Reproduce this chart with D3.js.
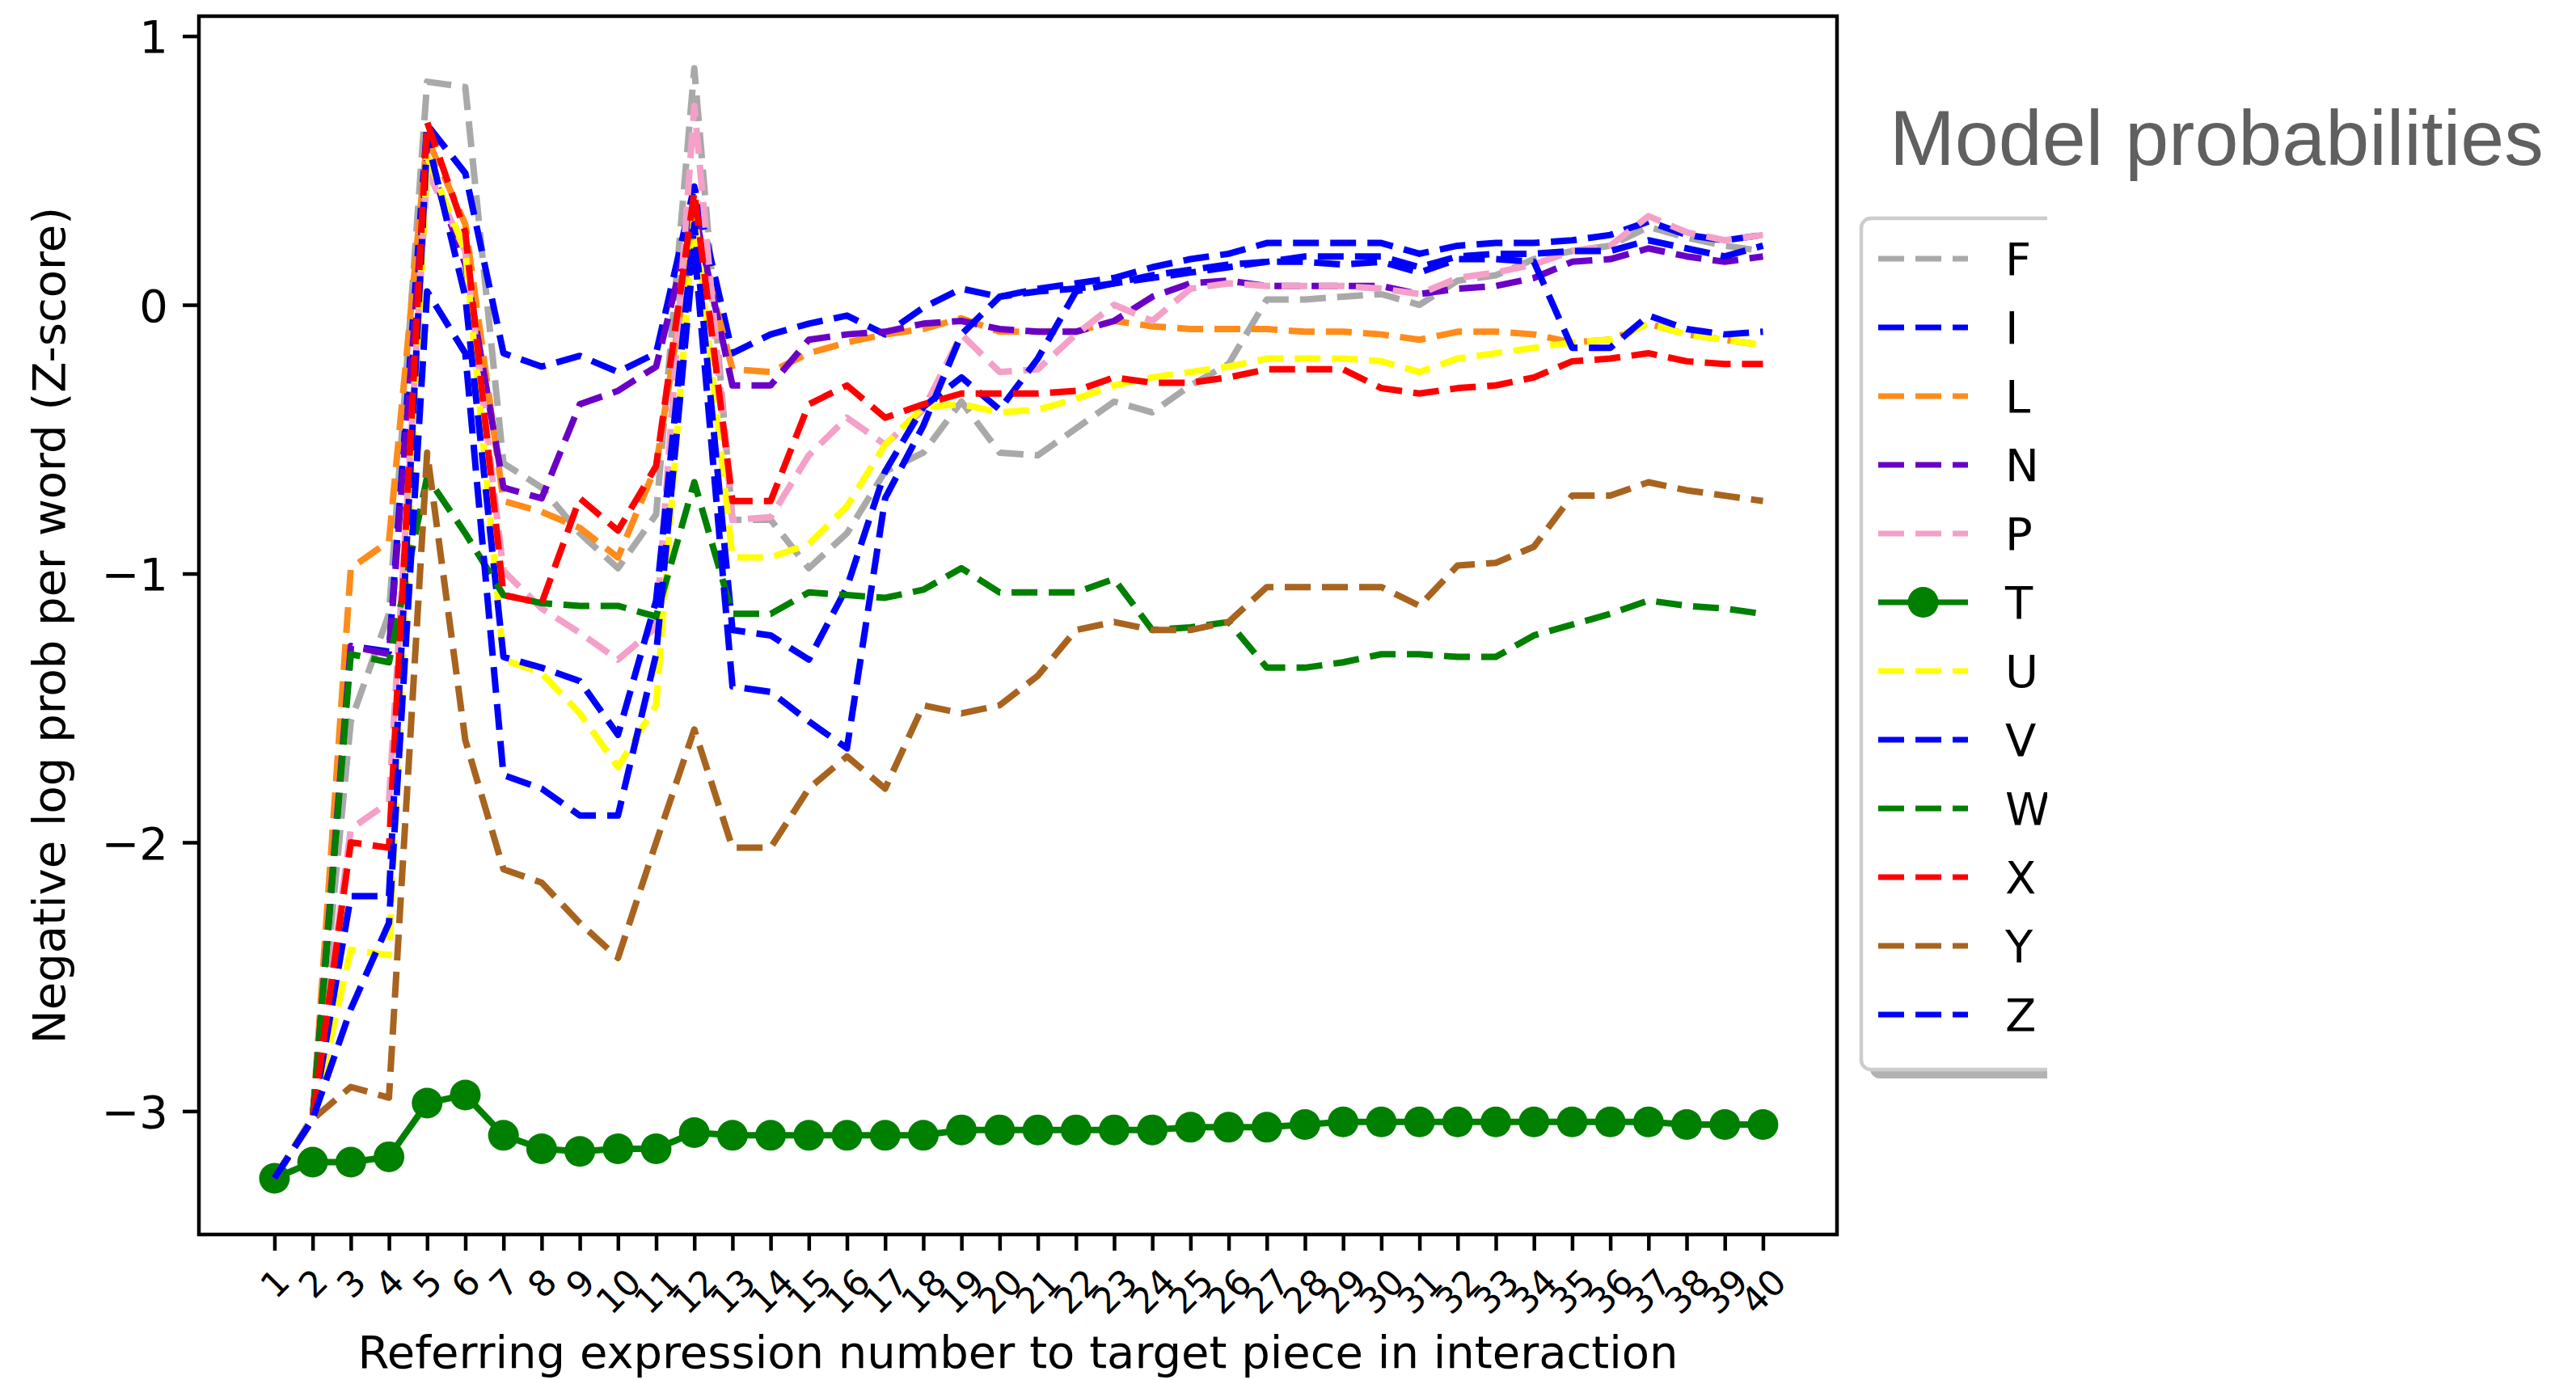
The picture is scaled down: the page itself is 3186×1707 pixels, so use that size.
<!DOCTYPE html>
<html>
<head>
<meta charset="utf-8">
<script src="https://cdn.jsdelivr.net/npm/d3@7.9.0/dist/d3.min.js"></script>
<style>
  html, body { margin: 0; padding: 0; background: #fff; }
  svg { display: block; }
  text { font-family: "DejaVu Sans", sans-serif; fill: #000; }
</style>
</head>
<body>
<svg id="chart" width="3186" height="1707"></svg>
<script>
// referring expression index 1..40
const steps = d3.range(1, 41);
const labels = ['F', 'I', 'L', 'N', 'P', 'T', 'U', 'V', 'W', 'X', 'Y', 'Z'];
const colors = ['#a9a9a9', '#0000ff', '#ff8c1a', '#6a00c8', '#f4a0c8', '#008000',
                '#ffff00', '#0000ff', '#008000', '#ff0000', '#a8641e', '#0000ff'];

const valsF = [-3.25, -3.02, -1.55, -1.15, 0.83, 0.81, -0.59, -0.68, -0.85, -0.98,
               -0.78, 0.88, -0.80, -0.80, -0.98, -0.85, -0.62, -0.55, -0.36, -0.55,
               -0.56, -0.46, -0.36, -0.40, -0.30, -0.22, 0.02, 0.02, 0.03, 0.04,
               0.00, 0.09, 0.11, 0.17, 0.20, 0.22, 0.29, 0.25, 0.22, 0.20];
const valsI = [-3.25, -3.03, -1.27, -1.29, 0.67, 0.49, -0.18, -0.23, -0.19, -0.25,
               -0.18, 0.44, -0.18, -0.11, -0.07, -0.04, -0.11, -0.01, 0.06, 0.03,
               0.06, 0.08, 0.10, 0.14, 0.17, 0.19, 0.23, 0.23, 0.23, 0.23,
               0.19, 0.22, 0.23, 0.23, 0.24, 0.26, 0.31, 0.26, 0.24, 0.26];
const valsL = [-3.25, -3.03, -0.98, -0.88, 0.62, 0.30, -0.73, -0.77, -0.83, -0.94,
               -0.60, 0.30, -0.24, -0.25, -0.18, -0.14, -0.11, -0.09, -0.05, -0.10,
               -0.10, -0.10, -0.06, -0.08, -0.09, -0.09, -0.09, -0.10, -0.10, -0.11,
               -0.13, -0.10, -0.10, -0.11, -0.14, -0.13, -0.07, -0.11, -0.13, -0.15];
const valsN = [-3.25, -3.03, -1.27, -1.30, 0.55, 0.15, -0.68, -0.72, -0.37, -0.32,
               -0.23, 0.35, -0.30, -0.30, -0.13, -0.11, -0.10, -0.07, -0.06, -0.09,
               -0.10, -0.10, -0.06, 0.03, 0.08, 0.09, 0.07, 0.07, 0.07, 0.07,
               0.04, 0.06, 0.07, 0.10, 0.16, 0.17, 0.21, 0.18, 0.16, 0.18];
const valsP = [-3.25, -3.03, -1.95, -1.85, 0.50, 0.20, -0.99, -1.13, -1.22, -1.32,
               -1.20, 0.74, -0.80, -0.79, -0.56, -0.42, -0.52, -0.39, -0.11, -0.25,
               -0.24, -0.11, 0.00, -0.06, 0.06, 0.08, 0.07, 0.07, 0.07, 0.06,
               0.04, 0.10, 0.12, 0.15, 0.20, 0.22, 0.33, 0.27, 0.24, 0.26];
const valsT = [-3.25, -3.19, -3.19, -3.17, -2.97, -2.94, -3.09, -3.14, -3.15, -3.14,
               -3.14, -3.08, -3.09, -3.09, -3.09, -3.09, -3.09, -3.09, -3.07, -3.07,
               -3.07, -3.07, -3.07, -3.07, -3.06, -3.06, -3.06, -3.05, -3.04, -3.04,
               -3.04, -3.04, -3.04, -3.04, -3.04, -3.04, -3.04, -3.05, -3.05, -3.05];
const valsU = [-3.25, -3.03, -2.40, -2.42, 0.55, 0.20, -1.32, -1.37, -1.52, -1.72,
               -1.49, 0.35, -0.94, -0.94, -0.89, -0.75, -0.52, -0.38, -0.37, -0.40,
               -0.39, -0.35, -0.30, -0.27, -0.25, -0.23, -0.20, -0.20, -0.20, -0.21,
               -0.25, -0.20, -0.18, -0.16, -0.14, -0.13, -0.07, -0.11, -0.13, -0.15];
const valsV = [-3.25, -3.03, -2.20, -2.20, 0.62, 0.03, -1.31, -1.35, -1.40, -1.60,
               -1.10, 0.30, -1.21, -1.23, -1.32, -1.05, -0.62, -0.38, -0.27, -0.39,
               -0.20, 0.05, 0.08, 0.11, 0.13, 0.15, 0.16, 0.16, 0.15, 0.16,
               0.12, 0.17, 0.17, 0.16, -0.16, -0.16, -0.04, -0.09, -0.11, -0.10];
const valsW = [-3.25, -3.03, -1.30, -1.33, -0.64, -0.85, -1.08, -1.11, -1.12, -1.12,
               -1.16, -0.66, -1.15, -1.15, -1.07, -1.08, -1.09, -1.06, -0.98, -1.07,
               -1.07, -1.07, -1.02, -1.21, -1.20, -1.18, -1.35, -1.35, -1.33, -1.30,
               -1.30, -1.31, -1.31, -1.23, -1.19, -1.15, -1.10, -1.12, -1.13, -1.15];
const valsX = [-3.25, -3.03, -2.00, -2.02, 0.68, 0.27, -1.08, -1.11, -0.72, -0.84,
               -0.60, 0.42, -0.73, -0.73, -0.37, -0.30, -0.42, -0.37, -0.33, -0.33,
               -0.33, -0.32, -0.27, -0.29, -0.29, -0.27, -0.24, -0.24, -0.24, -0.31,
               -0.33, -0.31, -0.30, -0.27, -0.21, -0.20, -0.18, -0.21, -0.22, -0.22];
const valsY = [-3.25, -3.03, -2.91, -2.95, -0.55, -1.62, -2.10, -2.15, -2.30, -2.43,
               -2.00, -1.58, -2.02, -2.02, -1.80, -1.68, -1.80, -1.49, -1.52, -1.49,
               -1.38, -1.21, -1.18, -1.21, -1.21, -1.18, -1.05, -1.05, -1.05, -1.05,
               -1.12, -0.97, -0.96, -0.90, -0.71, -0.71, -0.66, -0.69, -0.71, -0.73];
const valsZ = [-3.25, -3.03, -2.62, -2.30, 0.05, -0.18, -1.75, -1.80, -1.90, -1.90,
               -1.30, 0.22, -1.42, -1.44, -1.55, -1.65, -0.72, -0.45, -0.11, 0.03,
               0.05, 0.06, 0.08, 0.10, 0.12, 0.14, 0.16, 0.18, 0.18, 0.18,
               0.14, 0.18, 0.19, 0.19, 0.20, 0.20, 0.24, 0.21, 0.18, 0.22];

const allVals = [valsF, valsI, valsL, valsN, valsP, valsT, valsU, valsV, valsW, valsX, valsY, valsZ];
const series = labels.map((name, k) => ({
  name,
  color: colors[k],
  marker: name === 'T',
  points: steps.map((s, i) => ({ step: s, value: allVals[k][i] }))
}));

const svg = d3.select('#chart');
const frame = { left: 246, right: 2272, top: 20, bottom: 1527 };

const x = d3.scaleLinear().domain([-0.98, 41.94]).range([frame.left, frame.right]);
const y = d3.scaleLinear().domain([-3.459, 1.074]).range([frame.bottom, frame.top]);

svg.append('defs').append('clipPath').attr('id', 'plotClip')
  .append('rect')
  .attr('x', frame.left).attr('y', frame.top)
  .attr('width', frame.right - frame.left).attr('height', frame.bottom - frame.top);

// lines
const line = d3.line().x(d => x(d.step)).y(d => y(d.value));
const plot = svg.append('g').attr('clip-path', 'url(#plotClip)');

series.forEach(s => {
  plot.append('path')
    .datum(s.points)
    .attr('d', line)
    .attr('fill', 'none')
    .attr('stroke', s.color)
    .attr('stroke-width', 8)
    .attr('stroke-linejoin', 'round')
    .attr('stroke-dasharray', s.marker ? null : '32 14');
  if (s.marker) {
    plot.append('g').selectAll('circle')
      .data(s.points)
      .join('circle')
      .attr('cx', d => x(d.step))
      .attr('cy', d => y(d.value))
      .attr('r', 19)
      .attr('fill', s.color);
  }
});

// axes frame
svg.append('rect')
  .attr('x', frame.left).attr('y', frame.top)
  .attr('width', frame.right - frame.left).attr('height', frame.bottom - frame.top)
  .attr('fill', 'none').attr('stroke', '#000').attr('stroke-width', 4.5);

// y axis
const yAxis = svg.append('g')
  .attr('transform', `translate(${frame.left},0)`)
  .call(d3.axisLeft(y).tickValues([-3, -2, -1, 0, 1]).tickSize(20).tickPadding(18)
    .tickFormat(d => d < 0 ? '\u2212' + Math.abs(d) : String(d)));
yAxis.select('.domain').remove();
yAxis.selectAll('.tick line').attr('stroke-width', 4.5);
yAxis.selectAll('.tick text').attr('font-size', 56).attr('dy', '0.36em')
  .style('font-family', '"DejaVu Sans", sans-serif');

// x axis with slanted labels
const xFont = 44;
const xAxis = svg.append('g')
  .attr('transform', `translate(0,${frame.bottom})`)
  .call(d3.axisBottom(x).tickValues(steps).tickSize(20).tickFormat(d3.format('d')));
xAxis.select('.domain').remove();
xAxis.selectAll('.tick line').attr('stroke-width', 4.5);
xAxis.selectAll('.tick text')
  .attr('font-size', xFont)
  .style('font-family', '"DejaVu Sans", sans-serif')
  .attr('text-anchor', 'middle')
  .attr('dy', null)
  .attr('y', 0)
  .attr('dominant-baseline', 'central')
  .each(function () {
    const w = this.getComputedTextLength();
    const half = (w + xFont * 0.8) * Math.SQRT1_2 / 2;
    d3.select(this).attr('transform', `translate(0,${38 + half}) rotate(-45)`);
  });

// axis titles
svg.append('text')
  .attr('x', (frame.left + frame.right) / 2)
  .attr('y', 1692)
  .attr('text-anchor', 'middle')
  .attr('font-size', 56)
  .text('Referring expression number to target piece in interaction');

svg.append('text')
  .attr('transform', `translate(80,${(frame.top + frame.bottom) / 2}) rotate(-90)`)
  .attr('text-anchor', 'middle')
  .attr('font-size', 56)
  .text('Negative log prob per word (Z-score)');

// legend (cut off on the right like the source)
svg.select('defs').append('clipPath').attr('id', 'legendClip')
  .append('rect').attr('x', 0).attr('y', 0).attr('width', 2532).attr('height', 1707);

const legend = svg.append('g').attr('clip-path', 'url(#legendClip)');
const lgTop = 270, lgLeft = 2302, lgHeight = 1053;
legend.append('rect')
  .attr('x', lgLeft + 11).attr('y', lgTop + 11)
  .attr('width', 400).attr('height', lgHeight)
  .attr('rx', 12).attr('fill', '#000').attr('opacity', 0.3);
legend.append('rect')
  .attr('x', lgLeft).attr('y', lgTop)
  .attr('width', 400).attr('height', lgHeight)
  .attr('rx', 12).attr('fill', '#fff').attr('stroke', '#cccccc').attr('stroke-width', 4.5);

const rowY = d3.scaleLinear().domain([0, 11]).range([320, 1255]);
series.forEach((s, k) => {
  const ry = rowY(k);
  legend.append('line')
    .attr('x1', 2323).attr('x2', 2434).attr('y1', ry).attr('y2', ry)
    .attr('stroke', s.color).attr('stroke-width', 7)
    .attr('stroke-dasharray', s.marker ? null : '32 14');
  if (s.marker) {
    legend.append('circle').attr('cx', 2378.5).attr('cy', ry).attr('r', 19).attr('fill', s.color);
  }
  legend.append('text')
    .attr('x', 2480).attr('y', ry).attr('dy', '0.36em')
    .attr('font-size', 56)
    .text(s.name);
});

// slide title
svg.append('text')
  .attr('x', 2337).attr('y', 204)
  .attr('font-size', 97)
  .style('font-family', '"Liberation Sans", Arial, sans-serif')
  .style('fill', '#606060')
  .text('Model probabilities');
</script>
</body>
</html>
